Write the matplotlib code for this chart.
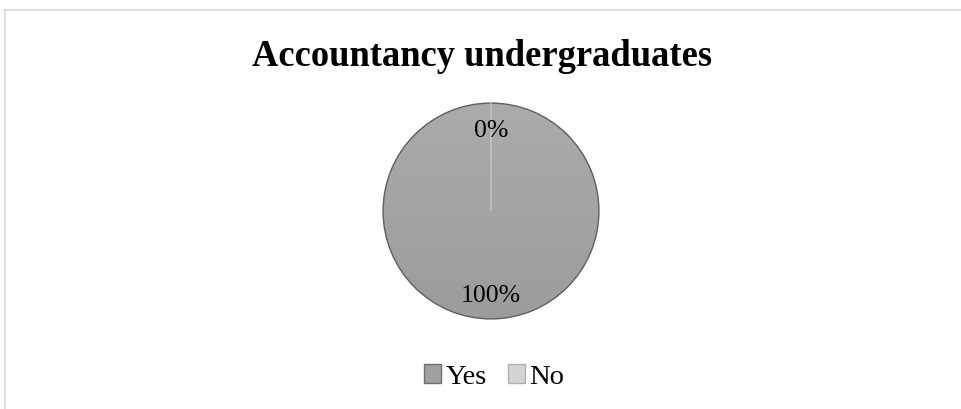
import numpy as np
import matplotlib.pyplot as plt
from matplotlib.colors import LinearSegmentedColormap
from matplotlib.lines import Line2D
from matplotlib.patches import Patch

labels = ["Yes", "No"]
values = [100, 0]
pct_labels = ["100%", "0%"]
colors = ["#a5a5a5", "#d4d4d4"]

plt.rcParams["font.family"] = ["Liberation Serif", "DejaVu Serif"]

fig = plt.figure(figsize=(9.62, 4.09), dpi=100)

# chart frame (only top and left edges visible)
fig.add_artist(Line2D([4 / 962, 1], [1 - 9.5 / 409] * 2, color="#d9d9d9", lw=1.2))
fig.add_artist(Line2D([4.5 / 962] * 2, [0, 1 - 9.5 / 409], color="#d9d9d9", lw=1.2))

fig.text(482 / 962, 1 - 57 / 409, "Accountancy undergraduates",
         ha="center", va="center", fontsize=26.3, fontweight="bold")

# pie axes: centre (491, 211), radius 109 px
r = 109
ax = fig.add_axes([(491 - r) / 962, 1 - (211 + r) / 409, 2 * r / 962, 2 * r / 409])
wedges, _ = ax.pie(values, colors=colors, startangle=90, counterclock=False,
                   radius=1, wedgeprops=dict(linewidth=1.0, edgecolor="#5f5f5f"))
wedges[1].set_edgecolor("#c8c8c8")
wedges[1].set_linewidth(1.0)

# soft vertical gradient inside the big slice
grad = np.linspace(0, 1, 256).reshape(-1, 1)
cmap = LinearSegmentedColormap.from_list("g", ["#ababab", "#9c9c9c"])
img = ax.imshow(grad, extent=[-1, 1, -1, 1], origin="upper", cmap=cmap,
                zorder=1, aspect="auto")
img.set_clip_path(wedges[0])
wedges[0].set_facecolor("none")
wedges[0].set_zorder(2)
wedges[1].set_zorder(3)

ax.set_xlim(-1.01, 1.01)
ax.set_ylim(-1.01, 1.01)
ax.set_aspect("equal")
ax.axis("off")

ax.text(0, -0.79, pct_labels[0], ha="center", va="center", fontsize=18.5, zorder=5)
ax.text(0, 0.74, pct_labels[1], ha="center", va="center", fontsize=18.5, zorder=5)

handles = [Patch(facecolor="#a0a0a0", edgecolor="#6f6f6f"),
           Patch(facecolor=colors[1], edgecolor="#b0b0b0")]
fig.legend(handles, labels, loc="center", bbox_to_anchor=(494 / 962, 1 - 377 / 409),
           ncol=2, frameon=False, fontsize=20.5, handlelength=0.6, handleheight=0.6,
           handletextpad=0.15, columnspacing=0.75)

fig.savefig("out.png", dpi=100)
